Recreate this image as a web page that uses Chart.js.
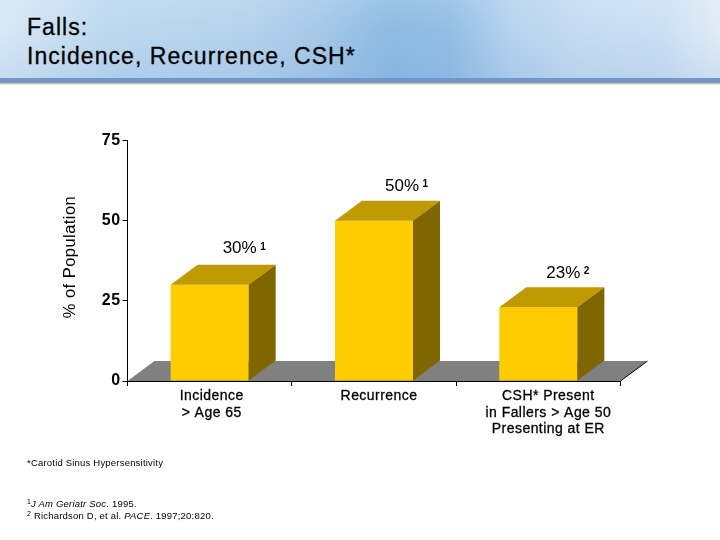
<!DOCTYPE html>
<html>
<head>
<meta charset="utf-8">
<script src="https://cdn.jsdelivr.net/npm/chart.js@4"></script>
<style>
    html, body { margin: 0; padding: 0; background: #fff; }
    body { width: 720px; height: 540px; position: relative; overflow: hidden; font-family: "Liberation Sans", Arial, sans-serif; color: #000; }
    #header {
        position: absolute; left: 0; top: 0; width: 720px; height: 78px;
        background:
            linear-gradient(to bottom, rgba(255,255,255,0.12), rgba(255,255,255,0) 40%, rgba(90,140,200,0.12)),
            linear-gradient(to right, #d8e8f6 0, #bcd8ef 110px, #b4d2ec 250px, #a5c8e8 320px, #8dbbe2 390px, #93bee4 450px, #b4d2ee 510px, #c6dcf2 580px, #cbdff3 660px, #e0ecf6 720px);
    }
    #rule {
        position: absolute; left: 0; top: 78px; width: 720px; height: 7px;
        background: linear-gradient(to bottom, #6f98c8 0, #6f98c8 35%, #7d8fb0 60%, #c8ccd6 85%, #fff 100%);
    }
    #title { position: absolute; left: 27px; top: 13px; font-size: 23px; line-height: 28.5px; letter-spacing: 1.05px; -webkit-text-stroke: 0.3px #000; white-space: nowrap; }
    #chartWrap { position: absolute; left: 0; top: 0; width: 720px; height: 540px; }
    .note { position: absolute; left: 27px; font-size: 9.5px; line-height: 12px; white-space: nowrap; letter-spacing: 0.2px; }
    sup { font-size: 7px; line-height: 0; vertical-align: 3px; }
</style>
</head>
<body>
<div id="header"></div>
<div id="rule"></div>
<div id="title">Falls:<br>Incidence, Recurrence, CSH*</div>
<div id="chartWrap"><canvas id="fallsChart" width="720" height="540"></canvas></div>
<div class="note" style="top:457px">*Carotid Sinus Hypersensitivity</div>
<div class="note" style="top:498px"><sup>1</sup><i>J Am Geriatr Soc</i>. 1995.</div>
<div class="note" style="top:510px"><sup>2</sup> Richardson D, et al. <i>PACE</i>. 1997;20:820.</div>

<script>
// ==================== DATA ====================
const categories = [
    ['Incidence', '> Age 65'],
    'Recurrence',
    ['CSH* Present', 'in Fallers > Age 50', 'Presenting at ER']
];
const values = [30, 50, 23];
const valueLabels = ['30%', '50%', '23%'];
const labelRefs = ['1', '1', '2'];
const yTicks = [0, 25, 50, 75];
const yTitle = '% of Population';

// ==================== 3D LOOK ====================
const DEPTH_X = 27, DEPTH_Y = 20;
const FONT = '"Liberation Sans", Arial, sans-serif';
// label placement relative to each bar, they are not evenly placed in the slide
const labelDx = [52, 50, 47];
const labelDy = [16, 14, 14];
// the slide's category labels sit to the right of their slots
const categoryNudge = [2, 5, 10];

function fillPoly(ctx, color, pts) {
    ctx.fillStyle = color;
    ctx.beginPath();
    pts.forEach((p, i) => i ? ctx.lineTo(p[0], p[1]) : ctx.moveTo(p[0], p[1]));
    ctx.closePath();
    ctx.fill();
}

const spacingPlugin = {
    id: 'spacing',
    beforeLayout(chart) { chart.ctx.letterSpacing = '0.45px'; },
    beforeDraw(chart) { chart.ctx.letterSpacing = '0.45px'; }
};

const nudgePlugin = {
    id: 'nudge',
    afterUpdate(chart) {
        chart.scales.x.getLabelItems().forEach((item, i) => {
            item.options.translation[0] += categoryNudge[i];
        });
    }
};

const floorPlugin = {
    id: 'floor',
    beforeDatasetsDraw(chart) {
        const { ctx, chartArea: a } = chart;
        fillPoly(ctx, '#808080', [
            [a.left, a.bottom], [a.left + DEPTH_X, a.bottom - DEPTH_Y],
            [a.right + DEPTH_X, a.bottom - DEPTH_Y], [a.right, a.bottom]
        ]);
        // small outline on the right edge of the floor
        ctx.strokeStyle = '#000';
        ctx.lineWidth = 1;
        ctx.beginPath();
        ctx.moveTo(a.right, a.bottom);
        ctx.lineTo(a.right + DEPTH_X, a.bottom - DEPTH_Y);
        ctx.stroke();
    }
};

const barDepthPlugin = {
    id: 'barDepth',
    afterDatasetsDraw(chart) {
        const { ctx } = chart;
        chart.getDatasetMeta(0).data.forEach((bar, i) => {
            const l = bar.x - bar.width / 2, r = bar.x + bar.width / 2;
            fillPoly(ctx, '#bf9900', [[l, bar.y], [l + DEPTH_X, bar.y - DEPTH_Y], [r + DEPTH_X, bar.y - DEPTH_Y], [r, bar.y]]);
            fillPoly(ctx, '#806600', [[r, bar.y], [r + DEPTH_X, bar.y - DEPTH_Y], [r + DEPTH_X, bar.base - DEPTH_Y], [r, bar.base]]);

            // value label with its reference number
            const tx = l + labelDx[i], ty = bar.y - DEPTH_Y - labelDy[i];
            ctx.fillStyle = '#000';
            ctx.textBaseline = 'middle';
            ctx.textAlign = 'left';
            ctx.letterSpacing = '0px';
            ctx.font = '17px ' + FONT;
            ctx.fillText(valueLabels[i], tx, ty);
            const w = ctx.measureText(valueLabels[i]).width;
            ctx.font = 'bold 10px ' + FONT;
            ctx.fillText(labelRefs[i], tx + w + 3.5, ty - 2);
            ctx.letterSpacing = '0.45px';
        });
    }
};

// the axis title sits above the axis centre in the slide, so it is placed by hand
const yTitlePlugin = {
    id: 'yTitleText',
    afterDraw(chart) {
        const { ctx } = chart;
        ctx.save();
        ctx.translate(70, 257);
        ctx.rotate(-Math.PI / 2);
        ctx.fillStyle = '#000';
        ctx.textAlign = 'center';
        ctx.textBaseline = 'middle';
        ctx.font = '16.5px ' + FONT;
        ctx.fillText(yTitle, 0, 0);
        ctx.restore();
    }
};

// ==================== CHART ====================
new Chart(document.getElementById('fallsChart'), {
    type: 'bar',
    data: {
        labels: categories,
        datasets: [{
            data: values,
            backgroundColor: '#ffcc00',
            borderWidth: 0,
            categoryPercentage: 1,
            barPercentage: 0.475
        }]
    },
    options: {
        responsive: false,
        animation: false,
        layout: { padding: { left: 100, right: 99.5, top: 140.5, bottom: 0 } },
        plugins: {
            legend: { display: false },
            tooltip: { enabled: false }
        },
        scales: {
            x: {
                grid: { display: true, drawOnChartArea: false, color: '#000', tickLength: 5, tickWidth: 1 },
                border: { color: '#000', width: 1 },
                afterFit: s => { s.height = 159; },
                ticks: {
                    color: '#000',
                    padding: 2,
                    maxRotation: 0,
                    autoSkip: false,
                    textStrokeColor: '#000',
                    textStrokeWidth: 0.3,
                    font: { family: FONT, size: 14, lineHeight: 1.18 }
                }
            },
            y: {
                min: 0,
                max: 75,
                afterBuildTicks: s => { s.ticks = yTicks.map(v => ({ value: v })); },
                afterFit: s => { s.width = 27.5; },
                grid: { display: true, drawOnChartArea: false, color: '#000', tickLength: 5, tickWidth: 1 },
                border: { color: '#000', width: 1 },
                ticks: {
                    color: '#000',
                    padding: 2,
                    font: { family: FONT, size: 16, weight: 'bold' }
                }
            }
        }
    },
    plugins: [spacingPlugin, nudgePlugin, floorPlugin, barDepthPlugin, yTitlePlugin]
});
</script>
</body>
</html>
